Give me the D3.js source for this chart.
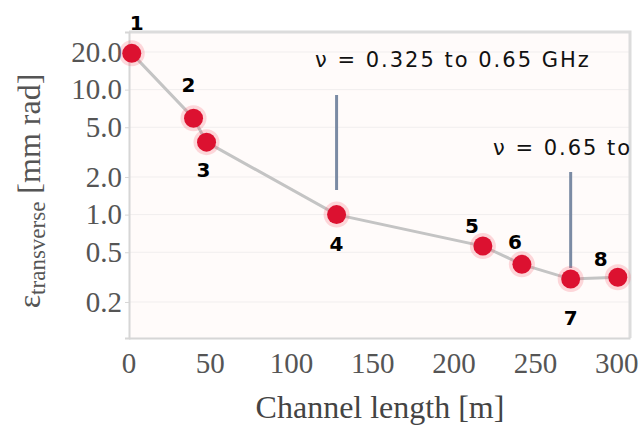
<!DOCTYPE html>
<html><head><meta charset="utf-8">
<script src="https://cdn.jsdelivr.net/npm/d3@7"></script>
<style>
html,body{margin:0;padding:0;background:#fff;}
svg{display:block;}
</style></head>
<body>
<svg id="chart" width="640" height="428"></svg>
<script>
// ---- data ----
const pointIds = ["1","2","3","4","5","6","7","8"];
const channelLength = [2, 40, 48, 128, 218, 242, 272, 301];
const emittance = [19.5, 5.9, 3.8, 1.0, 0.56, 0.40, 0.305, 0.315];
const xTicks = [0, 50, 100, 150, 200, 250, 300];
const yTicks = [20, 10, 5, 2, 1, 0.5, 0.2];
const yTickLabels = ["20.0", "10.0", "5.0", "2.0", "1.0", "0.5", "0.2"];
const bandLabels = ["ν = 0.325 to 0.65 GHz", "ν = 0.65 to"];
const bandPointIndex = [3, 6];

// ---- layout ----
const svg = d3.select("#chart");
const L = 129, R = 630, T = 32, B = 338;
const x = d3.scaleLinear().domain([0, 308.5]).range([128.5, R]);
const y = d3.scaleLog().domain([0.103, 28.9]).range([B, T]);

// plot background tint
svg.append("rect").attr("x", L).attr("y", T).attr("width", R - L).attr("height", B - T)
  .attr("fill", "#fffbfa");

// faint gridlines
svg.append("g").selectAll("line").data(yTicks).join("line")
  .attr("x1", L).attr("x2", R).attr("y1", d => y(d)).attr("y2", d => y(d))
  .attr("stroke", "#f1eeee").attr("stroke-width", 1);

// frame (top + right)
svg.append("path").attr("d", `M${L},${T}H${R}V${B}`)
  .attr("fill", "none").attr("stroke", "#dcdcdc").attr("stroke-width", 3);

// axes
const xAxis = svg.append("g").attr("transform", `translate(0,${B})`)
  .call(d3.axisBottom(x).tickValues(xTicks).tickFormat(d3.format("d")).tickSize(0).tickPadding(14));
const yAxis = svg.append("g").attr("transform", `translate(${L},0)`)
  .call(d3.axisLeft(y).tickValues(yTicks).tickFormat((d, i) => yTickLabels[i]).tickSize(4).tickPadding(3));
[xAxis, yAxis].forEach(g => {
  g.select(".domain").attr("stroke", "#d6d6d6").attr("stroke-width", 2);
  g.selectAll(".tick line").attr("stroke", "#d6d6d6");
  g.selectAll(".tick text").attr("fill", "#555").attr("font-family", "Liberation Serif, Times New Roman, serif")
    .attr("font-size", 29);
});
xAxis.selectAll(".tick text").attr("dy", "0.71em");

// axis titles
svg.append("text").attr("x", 380).attr("y", 418).attr("text-anchor", "middle")
  .attr("font-family", "Liberation Serif, Times New Roman, serif").attr("font-size", 32).attr("fill", "#444")
  .text("Channel length [m]");
const yt = svg.append("text").attr("transform", "translate(40,191) rotate(-90)").attr("text-anchor", "middle")
  .attr("font-family", "Liberation Serif, Times New Roman, serif").attr("font-size", 32).attr("fill", "#555");
yt.append("tspan").text("ε");
yt.append("tspan").attr("font-size", 23).attr("dy", 5).text("transverse");
yt.append("tspan").attr("dy", -5).text(" [mm rad]");

// connecting line
const pts = channelLength.map((c, i) => ({ c, e: emittance[i], id: pointIds[i] }));
svg.append("path").datum(pts)
  .attr("d", d3.line().x(d => x(d.c)).y(d => y(d.e)))
  .attr("fill", "none").attr("stroke", "#c4c4c4").attr("stroke-width", 3);

// annotation vertical lines
const vTops = [95, 172], vBots = [190, 268];
svg.append("g").selectAll("line").data(bandPointIndex).join("line")
  .attr("x1", d => x(channelLength[d])).attr("x2", d => x(channelLength[d]))
  .attr("y1", (d, i) => vTops[i]).attr("y2", (d, i) => vBots[i])
  .attr("stroke", "#7b8ba4").attr("stroke-width", 3);

// annotation texts
const bandPos = [[315, 67], [493, 155]];
svg.append("g").selectAll("text").data(bandLabels).join("text")
  .attr("x", (d, i) => bandPos[i][0]).attr("y", (d, i) => bandPos[i][1])
  .attr("font-family", "DejaVu Sans, sans-serif").attr("font-size", 21).attr("letter-spacing", 2)
  .attr("fill", "#111").text(d => d);

// points
const dots = svg.append("g").selectAll("g").data(pts).join("g")
  .attr("transform", d => `translate(${x(d.c)},${y(d.e)})`);
dots.append("circle").attr("r", 13).attr("fill", "rgba(245,80,100,0.22)");
dots.append("circle").attr("r", 9.5).attr("fill", "#dc1130");

// point number labels
const labelOffsets = [[5, -30], [-5, -33], [-3, 28], [0, 29], [-11, -20], [-7, -22], [0, 39], [-17, -18]];
svg.append("g").selectAll("text").data(pts).join("text")
  .attr("x", (d, i) => x(d.c) + labelOffsets[i][0]).attr("y", (d, i) => y(d.e) + labelOffsets[i][1])
  .attr("text-anchor", "middle").attr("dominant-baseline", "central")
  .attr("font-family", "DejaVu Sans, sans-serif").attr("font-weight", "bold").attr("font-size", 20)
  .attr("fill", "#000").text(d => d.id);
</script>
</body></html>
